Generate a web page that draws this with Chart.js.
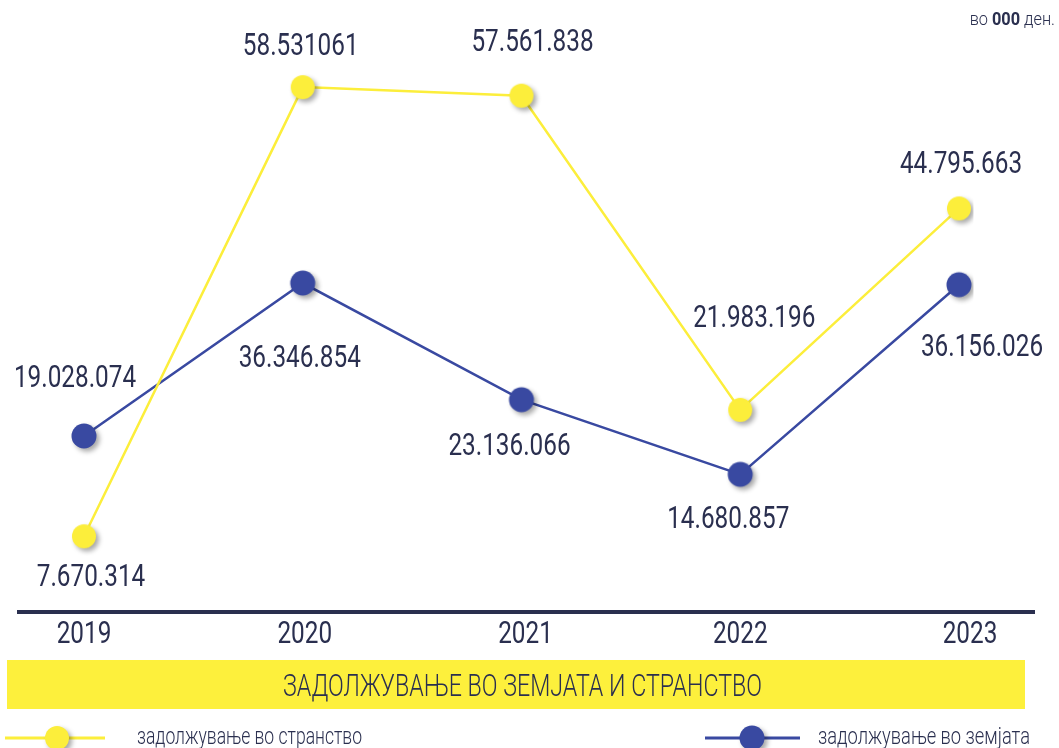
<!DOCTYPE html>
<html>
<head>
<meta charset="utf-8">
<script src="https://cdn.jsdelivr.net/npm/chart.js@4.4.0/dist/chart.umd.min.js"></script>
<style>
html,body{margin:0;padding:0;background:#fff}
#wrap{width:1059px;height:748px;position:relative}
</style>
</head>
<body>
<div id="wrap"><canvas id="c"></canvas></div>
<script>
const years = ['2019','2020','2021','2022','2023'];
const foreign = [7670314, 58531061, 57561838, 21983196, 44795663];
const domestic = [19028074, 36346854, 23136066, 14680857, 36156026];
const foreignText = ['7.670.314','58.531061','57.561.838','21.983.196','44.795.663'];
const domesticText = ['19.028.074','36.346.854','23.136.066','14.680.857','36.156.026'];
const title = 'ЗАДОЛЖУВАЊЕ ВО ЗЕМЈАТА И СТРАНСТВО';
const foreignName = 'задолжување во странство';
const domesticName = 'задолжување во земјата';

const NAVY = '#2a2f4f', YELLOW = '#fcee3b', BLUE = '#3949a1';
const FONT = 'Roboto, "Noto Sans", sans-serif';
const NARROW = 0.76;   // horizontal squeeze to get a condensed look

// label nudges relative to each point, px
const foreignOff = [[7,42],[-2,-40],[11,-53],[14,-91],[2,-43]];
const domesticOff = [[-9,-57],[-3,76],[-12,47],[-12,46],[23,63]];
const yearOff = [0,2,4,0,11];

// round marker with a soft drop shadow
function dot(color, r){
  const c = document.createElement('canvas');
  c.width = c.height = 44;
  const g = c.getContext('2d');
  g.shadowColor = 'rgba(0,0,0,0.35)';
  g.shadowBlur = 5; g.shadowOffsetX = 3; g.shadowOffsetY = 3;
  g.fillStyle = color;
  g.beginPath(); g.arc(22,22,r,0,Math.PI*2); g.fill();
  return c;
}
const yDot = dot(YELLOW, 12), bDot = dot(BLUE, 12.5);

// squeezed text; if width is given the text is stretched to that width
function txt(ctx, s, x, y, font, align, sx, width){
  ctx.save();
  ctx.font = font;
  const w = ctx.measureText(s).width;
  const k = width ? width / w : sx;
  ctx.translate(x, y);
  ctx.scale(k, 1);
  ctx.textAlign = align;
  ctx.textBaseline = 'middle';
  ctx.fillText(s, 0, 0);
  ctx.restore();
  return w * k;
}

const decor = {
  id:'decor',
  afterDatasetsDraw(chart){
    const ctx = chart.ctx, x = chart.scales.x;
    ctx.save();
    ctx.fillStyle = NAVY;
    const big = '32px ' + FONT;
    const lab = (ds, texts, offs) => {
      chart.getDatasetMeta(ds).data.forEach((p,i)=>{
        txt(ctx, texts[i], p.x + offs[i][0], p.y + offs[i][1], big, 'center', NARROW);
      });
    };
    lab(0, foreignText, foreignOff);
    lab(1, domesticText, domesticOff);
    // baseline
    ctx.fillRect(17, 610, 1018, 4);
    years.forEach((y,i)=> txt(ctx, y, x.getPixelForValue(i) + yearOff[i], 635, big, 'center', NARROW));
    // unit note
    let r = 1055;
    r -= txt(ctx, ' ден.', r, 20, '300 19px ' + FONT, 'right', 0.86);
    r -= txt(ctx, '000', r, 20, 'bold 19px ' + FONT, 'right', 0.86);
    txt(ctx, 'во ', r, 20, '300 19px ' + FONT, 'right', 0.86);
    // title band
    ctx.fillStyle = '#fdf03c';
    ctx.fillRect(7, 660, 1018, 49);
    ctx.fillStyle = NAVY;
    txt(ctx, title, 283, 688, '300 31px ' + FONT, 'left', null, 479);
    // legend
    ctx.lineWidth = 3;
    ctx.strokeStyle = YELLOW;
    ctx.beginPath(); ctx.moveTo(5,738); ctx.lineTo(105,738); ctx.stroke();
    ctx.drawImage(yDot, 57-22, 738-22);
    ctx.strokeStyle = BLUE;
    ctx.beginPath(); ctx.moveTo(705,738); ctx.lineTo(800,738); ctx.stroke();
    ctx.drawImage(bDot, 752-22, 738-22);
    ctx.fillStyle = NAVY;
    txt(ctx, foreignName, 137, 738, '300 23px ' + FONT, 'left', null, 225);
    txt(ctx, domesticName, 818, 738, '300 23px ' + FONT, 'left', null, 212);
    ctx.restore();
  }
};

new Chart(document.getElementById('c'), {
  type:'line',
  data:{
    labels: years,
    datasets:[
      {label: foreignName, data: foreign, borderColor: YELLOW, borderWidth: 2.5, pointStyle: yDot, pointRadius: 12, tension: 0},
      {label: domesticName, data: domestic, borderColor: BLUE, borderWidth: 2.5, pointStyle: bDot, pointRadius: 12, tension: 0}
    ]
  },
  options:{
    responsive:true, maintainAspectRatio:false, animation:false,
    layout:{padding:{left:84, right:100, top:30, bottom:144}},
    plugins:{legend:{display:false}, tooltip:{enabled:false}},
    scales:{
      x:{display:false, offset:false},
      y:{display:false, min:0, max:65000000}
    }
  },
  plugins:[decor]
});
</script>
</body>
</html>
